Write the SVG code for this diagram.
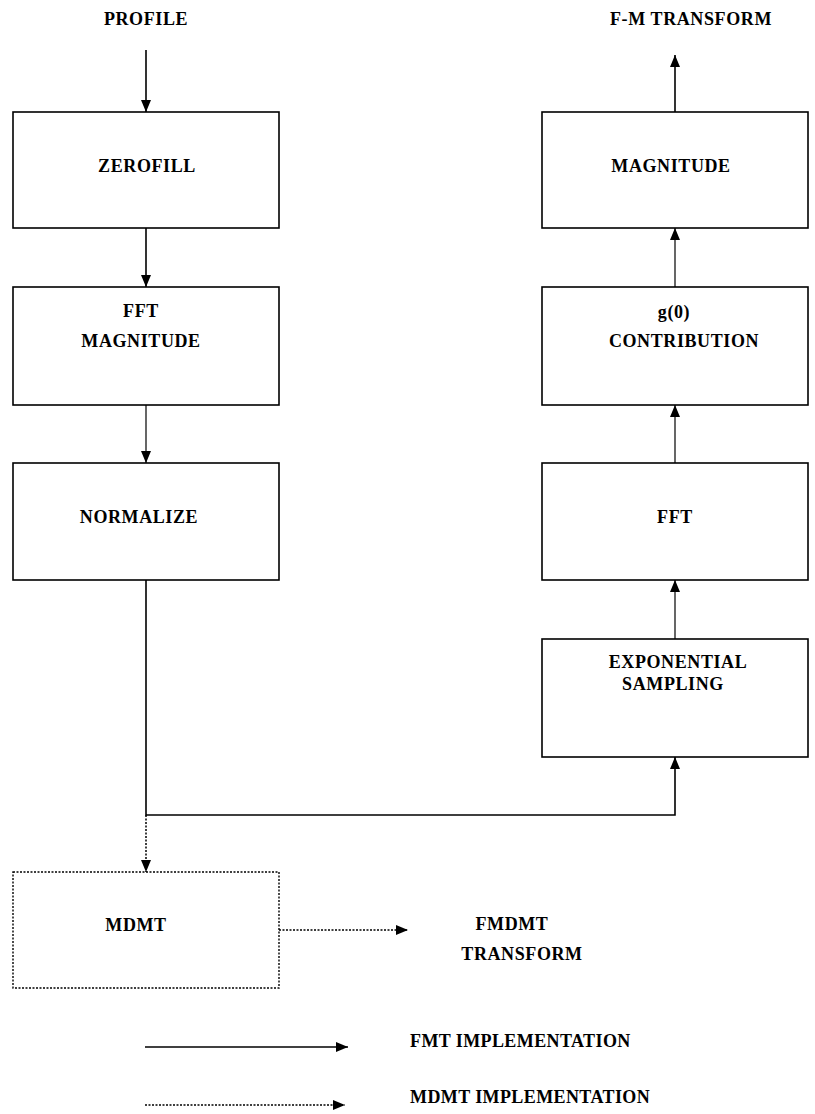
<svg xmlns="http://www.w3.org/2000/svg" width="815" height="1114" viewBox="0 0 815 1114">
<style>
.box{fill:#fff;stroke:#000;stroke-width:1.6}
.dbox{fill:#fff;stroke:#000;stroke-width:1.4;stroke-dasharray:2 1.5}
.t{font-family:"Liberation Serif","Times New Roman",serif;font-weight:bold;font-size:18px;letter-spacing:0.6px;fill:#000;text-anchor:middle}
.tl{font-family:"Liberation Serif","Times New Roman",serif;font-weight:bold;font-size:18px;letter-spacing:0.4px;fill:#000}
.c{fill:none;stroke:#000;stroke-width:1.6}
.d{fill:none;stroke:#000;stroke-width:1.5;stroke-dasharray:2 1.5}
</style>
<defs>
<marker id="ah" markerUnits="userSpaceOnUse" markerWidth="12" markerHeight="10" refX="12" refY="5" orient="auto">
<path d="M0,0 L12,5 L0,10 Z" fill="#000"/>
</marker>
</defs>
<rect width="815" height="1114" fill="#fff"/>
<text class="t" x="146" y="25">PROFILE</text>
<text class="t" x="691" y="25">F-M TRANSFORM</text>
<g id="connectors">
<line class="c" x1="146" y1="50" x2="146" y2="112" marker-end="url(#ah)"/>
<line class="c" x1="146" y1="228" x2="146" y2="287" marker-end="url(#ah)"/>
<line class="c" x1="146" y1="405" x2="146" y2="463" marker-end="url(#ah)" style="stroke-width:1.2"/>
<path class="c" d="M146,580 V815 H675 V757" marker-end="url(#ah)"/>
<line class="c" x1="675" y1="639" x2="675" y2="580" marker-end="url(#ah)" style="stroke-width:1.2"/>
<line class="c" x1="675" y1="463" x2="675" y2="405" marker-end="url(#ah)" style="stroke-width:1.2"/>
<line class="c" x1="675" y1="287" x2="675" y2="228" marker-end="url(#ah)" style="stroke-width:1.2"/>
<line class="c" x1="675" y1="112" x2="675" y2="55" marker-end="url(#ah)"/>
<line class="d" x1="146" y1="815" x2="146" y2="872" marker-end="url(#ah)"/>
<line class="d" x1="279" y1="930" x2="408" y2="930" marker-end="url(#ah)"/>
<line class="c" x1="145" y1="1047" x2="348" y2="1047" marker-end="url(#ah)"/>
<line class="d" x1="145" y1="1105" x2="345" y2="1105" marker-end="url(#ah)"/>
</g>
<g id="zerofill"><rect class="box" x="13" y="112" width="266" height="116"/><text class="t" x="147" y="172">ZEROFILL</text></g>
<g id="fftmag"><rect class="box" x="13" y="287" width="266" height="118"/><text class="t" x="141" y="317">FFT</text><text class="t" x="141" y="347">MAGNITUDE</text></g>
<g id="normalize"><rect class="box" x="13" y="463" width="266" height="117"/><text class="t" x="139" y="523">NORMALIZE</text></g>
<g id="magnitude"><rect class="box" x="542" y="112" width="266" height="116"/><text class="t" x="671" y="172">MAGNITUDE</text></g>
<g id="g0"><rect class="box" x="542" y="287" width="266" height="118"/><text class="t" x="674" y="318">g(0)</text><text class="t" x="684" y="347">CONTRIBUTION</text></g>
<g id="fft"><rect class="box" x="542" y="463" width="266" height="117"/><text class="t" x="675" y="523">FFT</text></g>
<g id="expsampling"><rect class="box" x="542" y="639" width="266" height="118"/><text class="t" x="678" y="668">EXPONENTIAL</text><text class="t" x="673" y="690">SAMPLING</text></g>
<g id="mdmt"><rect class="dbox" x="13" y="872" width="266" height="116"/><text class="t" x="136" y="931">MDMT</text></g>
<g id="fmdmt"><text class="t" x="512" y="930">FMDMT</text><text class="t" x="522" y="960">TRANSFORM</text></g>
<g id="legend"><text class="tl" x="410" y="1047">FMT IMPLEMENTATION</text><text class="tl" x="410" y="1103">MDMT IMPLEMENTATION</text></g>
</svg>
